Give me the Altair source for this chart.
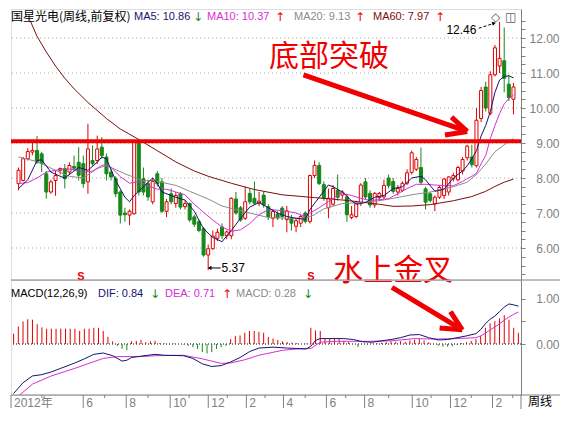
import altair as alt
import pandas as pd

# ---------------- data ----------------
stock_title = "国星光电(周线,前复权)"
ma_labels = ["MA5: 10.86", "MA10: 10.37", "MA20: 9.13", "MA60: 7.97"]
ma_arrows = ["↓", "↑", "↑", "↑"]
macd_title = "MACD(12,26,9)"
macd_labels = ["DIF: 0.84", "DEA: 0.71", "MACD: 0.28"]
macd_arrows = ["↓", "↑", "↓"]

opens = [7.84, 7.93, 8.55, 8.74, 8.79, 8.69, 8.12, 7.6, 7.93, 8.22,
         8.26, 8.17, 8.33, 8.45, 8.41, 7.89, 8.5, 8.5, 8.88, 8.6,
         8.17, 7.98, 7.6, 7.0, 6.94, 6.98, 9.04, 7.98, 7.84, 7.32,
         8.12, 7.89, 7.05, 7.55, 7.27, 7.55, 7.18, 7.27, 6.89, 6.75,
         6.55, 5.8, 5.98, 6.28, 6.6, 6.35, 6.35, 7.4, 7.15, 6.85,
         7.56, 7.42, 7.28, 7.51, 7.18, 6.85, 6.97, 7.14, 6.81, 6.85,
         6.62, 6.71, 7.0, 6.76, 8.07, 8.36, 7.81, 7.15, 7.25, 7.65,
         7.51, 7.46, 6.87, 6.9, 7.28, 7.89, 7.56, 7.23, 7.44, 7.46,
         8.0, 7.9, 7.6, 7.65, 7.85, 8.16, 8.25, 8.3, 7.69, 7.55,
         7.26, 7.45, 7.5, 7.6, 7.98, 7.95, 8.2, 8.58, 8.6, 8.35,
         9.7, 10.6, 9.85, 10.95, 11.2, 11.35, 10.68, 10.25]
highs = [8.3, 8.6, 8.85, 9.04, 9.2, 8.75, 8.2, 7.95, 8.2, 8.3,
         8.4, 8.45, 8.64, 8.88, 8.64, 9.55, 8.93, 9.21, 9.17, 8.7,
         8.25, 8.05, 7.65, 7.15, 7.1, 9.1, 9.1, 8.3, 7.95, 8.0,
         8.2, 8.0, 7.4, 7.7, 7.6, 7.6, 7.35, 7.3, 6.95, 6.8,
         6.6, 6.1, 6.5, 6.55, 6.7, 6.5, 7.45, 7.6, 7.2, 7.75,
         7.7, 7.9, 7.6, 7.6, 7.25, 7.1, 7.05, 7.2, 7.2, 6.95,
         6.85, 6.95, 7.05, 8.1, 8.5, 8.45, 7.9, 7.7, 7.8, 8.1,
         7.65, 7.55, 7.2, 7.35, 7.85, 8.0, 7.65, 7.6, 7.6, 7.95,
         8.1, 8.0, 7.8, 7.9, 8.25, 8.78, 8.6, 8.87, 7.75, 7.6,
         7.5, 7.8, 8.0, 8.05, 8.15, 8.35, 8.6, 8.95, 8.95, 10.0,
         10.6, 10.75, 11.05, 11.8, 12.46, 12.3, 10.95, 10.72]
lows = [7.65, 7.9, 8.5, 8.65, 8.4, 8.17, 7.41, 7.55, 7.49, 8.1,
        7.7, 8.1, 8.2, 7.93, 7.72, 7.55, 8.35, 8.4, 8.55, 7.93,
        7.93, 7.46, 6.7, 6.75, 6.65, 6.95, 7.5, 7.5, 7.35, 7.25,
        7.75, 7.0, 6.88, 7.25, 7.15, 7.1, 7.1, 6.75, 6.6, 6.45,
        5.75, 5.37, 5.95, 6.2, 6.25, 6.25, 6.25, 6.95, 6.75, 6.8,
        7.25, 7.25, 7.2, 7.15, 6.8, 6.6, 6.8, 6.8, 6.45, 6.5,
        6.45, 6.6, 6.7, 6.7, 8.0, 7.8, 7.35, 6.85, 7.2, 7.35,
        7.4, 6.75, 6.82, 6.85, 7.2, 7.4, 7.15, 7.15, 7.35, 7.4,
        7.7, 7.55, 7.5, 7.6, 7.8, 8.1, 8.2, 7.8, 7.1, 7.3,
        7.05, 7.4, 7.4, 7.5, 7.9, 7.9, 8.1, 8.5, 8.3, 8.3,
        9.6, 9.9, 9.8, 10.9, 11.0, 10.45, 10.2, 9.82]
closes = [8.22, 8.55, 8.76, 8.79, 8.45, 8.41, 7.6, 7.89, 8.07, 8.27,
          7.98, 8.36, 8.28, 8.08, 7.84, 8.83, 8.41, 8.83, 8.64, 8.12,
          8.03, 7.55, 6.94, 6.95, 7.05, 9.04, 7.6, 7.6, 7.46, 7.9,
          7.84, 7.05, 7.32, 7.32, 7.5, 7.17, 7.27, 6.8, 6.68, 6.5,
          5.8, 5.98, 6.34, 6.45, 6.35, 6.46, 7.42, 7.0, 6.8, 7.32,
          7.32, 7.28, 7.34, 7.23, 6.9, 7.04, 6.86, 6.9, 7.06, 6.71,
          6.78, 6.9, 6.76, 8.07, 8.36, 7.84, 7.43, 7.42, 7.7, 7.45,
          7.6, 6.95, 6.95, 7.28, 7.8, 7.46, 7.23, 7.56, 7.56, 7.79,
          7.78, 7.62, 7.7, 7.85, 8.15, 8.72, 8.53, 7.88, 7.31, 7.36,
          7.45, 7.73, 7.97, 8.03, 8.07, 8.3, 8.53, 8.91, 8.38, 9.65,
          10.5, 10.0, 10.95, 11.72, 11.42, 10.85, 10.3, 10.6]

ma5_i = [0, 2, 4, 5, 7, 9, 10, 12, 13, 15, 17, 18, 19, 21, 23, 24, 25, 27, 29, 30,
         31, 34, 36, 38, 40, 42, 44, 46, 48, 50, 52, 54, 56, 58, 60, 62, 63, 65, 67, 68,
         70, 72, 73, 75, 77, 79, 81, 83, 85, 87, 88, 90, 92, 94, 96, 97, 98, 99, 100, 101,
         102, 103, 104, 105, 106, 107]
ma5_v = [7.7, 7.95, 8.5, 8.52, 8.17, 8.05, 8.0, 8.2, 8.3, 8.22, 8.45, 8.6, 8.55, 7.93, 7.45, 7.32, 7.5, 7.75, 8.0, 7.85,
         7.6, 7.45, 7.37, 7.05, 6.55, 6.3, 6.18, 6.5, 6.85, 7.17, 7.3, 7.15, 7.0, 6.9, 6.85, 6.82, 7.1, 7.45, 7.8, 7.75,
         7.6, 7.35, 7.25, 7.3, 7.45, 7.5, 7.7, 7.75, 8.0, 8.05, 7.95, 7.62, 7.68, 8.0, 8.2, 8.35, 8.55, 8.78, 9.2, 9.5,
         9.9, 10.45, 10.8, 10.9, 10.92, 10.86]
ma10_i = [0, 2, 4, 6, 8, 10, 12, 14, 16, 18, 19, 20, 22, 24, 26, 28, 30, 32, 34, 36,
          38, 40, 42, 44, 46, 48, 50, 52, 54, 56, 58, 60, 62, 63, 65, 67, 69, 70, 72, 74,
          76, 78, 80, 82, 84, 86, 88, 90, 92, 94, 96, 97, 98, 99, 100, 101, 102, 103, 104, 105,
          106, 107]
ma10_v = [7.84, 7.87, 8.0, 8.17, 8.22, 8.27, 8.24, 8.16, 8.2, 8.36, 8.38, 8.3, 8.04, 7.85, 7.9, 7.78, 7.68, 7.68, 7.6, 7.52,
          7.25, 7.02, 6.8, 6.6, 6.48, 6.52, 6.7, 6.95, 7.1, 7.08, 7.05, 7.0, 6.9, 7.0, 7.15, 7.33, 7.5, 7.56, 7.5, 7.42,
          7.36, 7.38, 7.41, 7.55, 7.7, 7.82, 7.82, 7.8, 7.78, 7.78, 7.9, 7.98, 8.05, 8.13, 8.41, 8.64, 9.13, 9.5, 9.84, 10.12,
          10.27, 10.37]
ma20_i = [0, 4, 8, 11, 14, 17, 19, 20, 23, 27, 29, 34, 37, 41, 44, 47, 50, 54, 58, 62,
          64, 66, 70, 74, 78, 81, 85, 89, 94, 97, 99, 101, 103, 105, 107]
ma20_v = [8.6, 8.47, 8.22, 8.05, 8.0, 8.27, 8.36, 8.3, 8.12, 7.92, 7.93, 7.79, 7.62, 7.4, 7.2, 7.1, 7.0, 6.87, 6.85, 6.85,
          6.95, 7.12, 7.27, 7.3, 7.35, 7.42, 7.52, 7.6, 7.75, 7.88, 8.1, 8.4, 8.75, 8.95, 9.13]
ma60_i = [2.5, 4, 6, 8, 10, 12, 15, 19, 22, 26, 30, 34, 38, 41, 46, 51, 57, 64, 71, 78,
          81, 85, 89, 94, 98, 101, 103, 105, 107]
ma60_v = [12.5, 12.05, 11.6, 11.2, 10.85, 10.55, 10.16, 9.7, 9.4, 9.1, 8.78, 8.46, 8.2, 8.05, 7.85, 7.67, 7.52, 7.44, 7.36, 7.25,
          7.19, 7.2, 7.24, 7.35, 7.47, 7.62, 7.76, 7.88, 7.97]

macd_hist = [0.23, 0.39, 0.5, 0.55, 0.54, 0.44, 0.37, 0.34, 0.34, 0.34,
             0.34, 0.34, 0.34, 0.34, 0.29, 0.34, 0.34, 0.36, 0.36, 0.29,
             0.16, 0.06, -0.04, -0.11, -0.14, 0.06, 0.07, 0.09, 0.04, 0.06,
             0.07, 0.02, 0.01, 0.0, 0.01, 0.0, -0.01, -0.04, -0.07, -0.11,
             -0.18, -0.21, -0.18, -0.11, -0.07, -0.04, 0.11, 0.18, 0.19, 0.25,
             0.29, 0.29, 0.27, 0.25, 0.16, 0.12, 0.09, 0.06, 0.04, 0.03,
             0.02, 0.0, 0.01, 0.36, 0.30, 0.29, 0.11, 0.11, 0.11, 0.11,
             0.07, 0.04, 0.0, -0.07, 0.0, -0.02, 0.01, 0.02, 0.03, 0.04,
             0.06, 0.05, 0.06, 0.05, 0.08, 0.1, 0.12, 0.08, 0.04, 0.0,
             -0.04, -0.06, -0.06, -0.05, -0.02, 0.02, 0.04, 0.07, 0.11, 0.18,
             0.36, 0.46, 0.51, 0.57, 0.64, 0.54, 0.36, 0.25]
dif_i = [0, 2, 4, 6, 8, 10, 13, 15, 17, 19, 21, 23, 24, 25, 27, 30, 32, 36, 38, 40,
         42, 44, 46, 48, 50, 52, 55, 58, 62, 63, 64, 65, 70, 72, 74, 76, 78, 80, 82, 84,
         86, 88, 90, 92, 94, 96, 98, 99, 100, 101, 102, 103, 104, 105, 106, 107]
dif_v = [-1.1, -0.86, -0.71, -0.68, -0.62, -0.54, -0.42, -0.33, -0.23, -0.2, -0.26, -0.38, -0.36, -0.3, -0.27, -0.23, -0.25, -0.26, -0.32, -0.44,
         -0.5, -0.48, -0.4, -0.3, -0.17, -0.09, -0.07, -0.09, -0.11, -0.05, 0.08, 0.12, 0.12, 0.1, 0.05, 0.04, 0.07, 0.1, 0.14, 0.2,
         0.21, 0.14, 0.09, 0.1, 0.14, 0.18, 0.23, 0.32, 0.45, 0.55, 0.62, 0.72, 0.82, 0.89, 0.87, 0.84]
dea_i = [0, 4, 8, 13, 19, 22, 27, 30, 36, 40, 44, 46, 49, 52, 57, 60, 63, 65, 68, 75,
         80, 85, 89, 94, 98, 99, 100, 101, 102, 103, 104, 105, 106, 107]
dea_v = [-1.25, -0.89, -0.71, -0.54, -0.32, -0.28, -0.28, -0.26, -0.25, -0.33, -0.43, -0.42, -0.35, -0.25, -0.14, -0.11, -0.1, 0.04, 0.06, 0.06,
         0.07, 0.12, 0.11, 0.12, 0.14, 0.18, 0.24, 0.31, 0.38, 0.45, 0.53, 0.6, 0.66, 0.71]

breakout_level = [9.05]
grid_levels = [6, 7, 8, 9, 10, 11, 12]
price_ticks = [5.25 + 0.25 * k for k in range(30)]
macd_ticks = [0.0, 0.5, 1.0]
month_i = [-0.55, 14.76, 23.87, 33.19, 41.26, 49.34, 57.2, 66.3, 74.4, 84.5, 92.6, 101.5]
month_lbl = ["2012年", "6", "8", "10", "12", "2", "4", "6", "8", "10", "12", "2"]
minor_i = [6.0, 19.3, 28.5, 37.2, 45.3, 53.3, 61.8, 70.4, 79.5, 88.5, 97.0, 105.8]

# annotations (data coordinates)
arrow1_seg = [0, 0, 1, 1, 2, 2]
arrow1_i = [61.6, 97.0, 93.6, 97.0, 92.2, 97.0]
arrow1_p = [10.95, 9.33, 9.74, 9.33, 9.23, 9.33]
arrow2_seg = [0, 0, 1, 1, 2, 2]
arrow2_i = [80.2, 95.1, 92.6, 95.1, 90.3, 95.1]
arrow2_v = [1.257, 0.315, 0.72, 0.315, 0.358, 0.315]
note1 = {"text": "底部突破", "i": 67.1, "p": 11.46}
note2 = {"text": "水上金叉", "i": 81.0, "p": 5.35}
hi_note = {"text": "12.46", "i": 99.0, "p": 12.23}
hi_arrow_i = [99.5, 102.8]
hi_arrow_p = [12.28, 12.42]
lo_note = {"text": "5.37", "i": 43.9, "p": 5.43}
lo_arrow_i = [41.3, 43.7]
lo_arrow_p = [5.43, 5.43]
s_marks_i = [13.5, 63.2]
s_marks_p = [5.17, 5.17]

# ---------------- styling / layout ----------------
W, H1, H2 = 510, 271, 115
C_UP, C_DN = "#e00000", "#17881a"
C_MA5, C_MA10, C_MA20, C_MA60 = "#14146e", "#d62fd6", "#8c8c8c", "#7d0d0d"
C_ANN, C_AX = "#f00000", "#808080"
F_CJK = "Noto Sans CJK SC"
F_LAT = "Liberation Sans"

XS = alt.Scale(domain=[-0.55, 107.55], nice=False, zero=False)
PS = alt.Scale(domain=[5.086, 12.829], nice=False, zero=False)
MS = alt.Scale(domain=[-1.133, 1.422], nice=False, zero=False)

PAX = alt.Axis(orient="right", values=price_ticks, title=None, grid=False,
               labelExpr="datum.value % 1 === 0 ? format(datum.value, '.2f') : ''",
               tickSize=4, labelPadding=34, labelAlign="right", labelColor=C_AX,
               labelFont=F_LAT, labelFontSize=12, labelOverlap=False, labelFlush=False,
               domainColor=C_AX, tickColor=C_AX)
MAX = alt.Axis(orient="right", values=macd_ticks, title=None, grid=False,
               labelExpr="datum.value === 0.5 ? '' : format(datum.value, '.2f')",
               tickSize=4, labelPadding=34, labelAlign="right", labelColor=C_AX,
               labelFont=F_LAT, labelFontSize=12, labelOverlap=False, labelFlush=False,
               domainColor=C_AX, tickColor=C_AX)


def X(f="i"):
    return alt.X(f"{f}:Q", scale=XS, axis=None)


def PY(f):
    return alt.Y(f"{f}:Q", scale=PS, axis=PAX, title=None)


def MY(f):
    return alt.Y(f"{f}:Q", scale=MS, axis=MAX, title=None)


N = len(closes)
cdf = pd.DataFrame({"i": list(range(N)), "open": opens, "high": highs, "low": lows, "close": closes})
cdf["dir"] = ["up" if c >= o else "down" for o, c in zip(opens, closes)]
dir_color = alt.Color("dir:N", scale=alt.Scale(domain=["up", "down"], range=[C_UP, C_DN]), legend=None)

# ---------------- price panel ----------------
grid = alt.Chart(pd.DataFrame({"lvl": grid_levels})).mark_rule(
    color="#a8a8a8", strokeDash=[1, 3], strokeWidth=1).encode(y=PY("lvl"))
wicks = alt.Chart(cdf).mark_rule(strokeWidth=1).encode(x=X(), y=PY("low"), y2="high", color=dir_color)
up_body = alt.Chart(cdf[cdf["dir"] == "up"]).mark_bar(
    size=3, fill="white", stroke=C_UP, strokeWidth=1).encode(x=X(), y=PY("open"), y2="close")
dn_body = alt.Chart(cdf[cdf["dir"] == "down"]).mark_bar(
    size=3, fill=C_DN, stroke=C_DN, strokeWidth=1).encode(x=X(), y=PY("open"), y2="close")


def ma_line(ii, vv, color):
    return alt.Chart(pd.DataFrame({"i": ii, "v": vv})).mark_line(
        color=color, strokeWidth=1, clip=True).encode(x=X(), y=PY("v"))


ma60 = ma_line(ma60_i, ma60_v, C_MA60)
ma20 = ma_line(ma20_i, ma20_v, C_MA20)
ma10 = ma_line(ma10_i, ma10_v, C_MA10)
ma5 = ma_line(ma5_i, ma5_v, C_MA5)

red_line = alt.Chart(pd.DataFrame({"lvl": breakout_level})).mark_rule(
    color=C_ANN, strokeWidth=4).encode(y=PY("lvl"))

arrow1 = alt.Chart(pd.DataFrame({"seg": arrow1_seg, "i": arrow1_i, "p": arrow1_p})).mark_line(
    color=C_ANN, strokeWidth=5, strokeCap="butt").encode(x=X(), y=PY("p"), detail="seg:N")

txt1 = alt.Chart(pd.DataFrame([note1])).mark_text(
    font=F_CJK, fontSize=30, color=C_ANN, align="center", baseline="middle").encode(
    x=X(), y=PY("p"), text="text:N")
txt2 = alt.Chart(pd.DataFrame([note2])).mark_text(
    font=F_CJK, fontSize=30, color=C_ANN, align="center", baseline="middle").encode(
    x=X(), y=PY("p"), text="text:N")
hi_txt = alt.Chart(pd.DataFrame([hi_note])).mark_text(
    font=F_LAT, fontSize=12, color="black", align="right", baseline="middle").encode(
    x=X(), y=PY("p"), text="text:N")
hi_arr = alt.Chart(pd.DataFrame({"i": hi_arrow_i, "p": hi_arrow_p})).mark_line(
    color="black", strokeWidth=1, strokeDash=[3, 2]).encode(x=X(), y=PY("p"))
hi_head = alt.Chart(pd.DataFrame({"i": hi_arrow_i[-1:], "p": hi_arrow_p[-1:]})).mark_point(
    shape="triangle-right", size=18, filled=True, color="black", angle=345, opacity=1).encode(x=X(), y=PY("p"))
lo_txt = alt.Chart(pd.DataFrame([lo_note])).mark_text(
    font=F_LAT, fontSize=12, color="black", align="left", baseline="middle").encode(
    x=X(), y=PY("p"), text="text:N")
lo_arr = alt.Chart(pd.DataFrame({"i": lo_arrow_i, "p": lo_arrow_p})).mark_line(
    color="black", strokeWidth=1).encode(x=X(), y=PY("p"))
lo_head = alt.Chart(pd.DataFrame({"i": lo_arrow_i[:1], "p": lo_arrow_p[:1]})).mark_point(
    shape="triangle-left", size=18, filled=True, color="black", opacity=1).encode(x=X(), y=PY("p"))
s_marks = alt.Chart(pd.DataFrame({"i": s_marks_i, "p": s_marks_p})).mark_text(
    text="S", font=F_LAT, fontSize=11, fontWeight="bold", color=C_ANN, baseline="middle").encode(
    x=X(), y=PY("p"))

header = []
hdr_y = 8
header.append(alt.Chart().mark_text(text=stock_title, font=F_CJK, fontSize=12, color="black",
                                    align="left", baseline="middle").encode(x=alt.value(0), y=alt.value(hdr_y)))
ma_cols = [C_MA5, C_MA10, C_MA20, C_MA60]
ma_x = [123, 196, 283, 362]
ar_x = [182, 264, 344, 424]
for lbl, arw, col, xt, xa in zip(ma_labels, ma_arrows, ma_cols, ma_x, ar_x):
    header.append(alt.Chart().mark_text(text=lbl, font=F_LAT, fontSize=11, color=col, align="left",
                                        baseline="middle").encode(x=alt.value(xt), y=alt.value(hdr_y)))
    header.append(alt.Chart().mark_text(text=arw, font="DejaVu Sans", fontSize=12,
                                        color=(C_DN if arw == "↓" else C_ANN), align="left",
                                        baseline="middle").encode(x=alt.value(xa), y=alt.value(hdr_y)))
header.append(alt.Chart().mark_text(text="◇", font="DejaVu Sans", fontSize=12, color="#606060",
                                    align="left", baseline="middle").encode(x=alt.value(480), y=alt.value(hdr_y)))
header.append(alt.Chart().mark_text(text="◫", font="DejaVu Sans", fontSize=12, color="#606060",
                                    align="left", baseline="middle").encode(x=alt.value(494), y=alt.value(hdr_y)))

price = alt.layer(grid, wicks, up_body, dn_body, ma60, ma20, ma10, ma5, red_line, arrow1,
                  txt1, txt2, hi_txt, hi_arr, hi_head, lo_txt, lo_arr, lo_head, s_marks,
                  *header).properties(width=W, height=H1)

# ---------------- MACD panel ----------------
hdf = pd.DataFrame({"i": list(range(N)), "h": macd_hist, "z": [0.0] * N})
hdf["dir"] = ["up" if v >= 0 else "down" for v in macd_hist]
zero = alt.Chart(pd.DataFrame({"z": [0.0]})).mark_rule(
    color="black", strokeDash=[1, 2], strokeWidth=1).encode(y=MY("z"))
bars = alt.Chart(hdf).mark_rule(strokeWidth=1).encode(
    x=X(), y=MY("z"), y2="h",
    color=alt.Color("dir:N", scale=alt.Scale(domain=["up", "down"], range=["#c00000", "#1a7a1a"]), legend=None))
dea = alt.Chart(pd.DataFrame({"i": dea_i, "v": dea_v})).mark_line(
    color=C_MA10, strokeWidth=1, clip=True).encode(x=X(), y=MY("v"))
dif = alt.Chart(pd.DataFrame({"i": dif_i, "v": dif_v})).mark_line(
    color=C_MA5, strokeWidth=1, clip=True).encode(x=X(), y=MY("v"))
arrow2 = alt.Chart(pd.DataFrame({"seg": arrow2_seg, "i": arrow2_i, "v": arrow2_v})).mark_line(
    color=C_ANN, strokeWidth=5, strokeCap="butt").encode(x=X(), y=MY("v"), detail="seg:N")

mh = []
mh_y = 14
mh.append(alt.Chart().mark_text(text=macd_title, font=F_LAT, fontSize=11, color="black", align="left",
                                baseline="middle").encode(x=alt.value(0), y=alt.value(mh_y)))
m_cols = [C_MA5, C_MA10, C_MA20]
m_x = [87, 154, 225]
m_ax = [139, 211, 292]
for lbl, arw, col, xt, xa in zip(macd_labels, macd_arrows, m_cols, m_x, m_ax):
    mh.append(alt.Chart().mark_text(text=lbl, font=F_LAT, fontSize=11, color=col, align="left",
                                    baseline="middle").encode(x=alt.value(xt), y=alt.value(mh_y)))
    mh.append(alt.Chart().mark_text(text=arw, font="DejaVu Sans", fontSize=12,
                                    color=(C_DN if arw == "↓" else C_ANN), align="left",
                                    baseline="middle").encode(x=alt.value(xa), y=alt.value(mh_y)))

frame_top = alt.Chart().mark_rule(color=C_AX, strokeWidth=1).encode(
    x=alt.value(0), x2=alt.value(W + 39), y=alt.value(0))
frame_bot = alt.Chart().mark_rule(color=C_AX, strokeWidth=1).encode(
    x=alt.value(0), x2=alt.value(W + 39), y=alt.value(H2))
frame_v = alt.Chart().mark_rule(color=C_AX, strokeWidth=1).encode(
    x=alt.value(W), y=alt.value(H2), y2=alt.value(H2 + 14))
mdf = pd.DataFrame({"i": month_i, "lbl": month_lbl})
major = alt.Chart(mdf).mark_rule(color=C_AX, strokeWidth=1).encode(
    x=X(), y=alt.value(H2), y2=alt.value(H2 + 13))
minor = alt.Chart(pd.DataFrame({"i": minor_i})).mark_rule(color=C_AX, strokeWidth=1).encode(
    x=X(), y=alt.value(H2), y2=alt.value(H2 + 3))
mlabels = alt.Chart(mdf).mark_text(font=F_LAT + ", " + F_CJK, fontSize=12, color=C_AX, align="left",
                                   baseline="middle", dx=3).encode(
    x=X(), y=alt.value(H2 + 8), text="lbl:N")
zhouxian = alt.Chart().mark_text(text="周线", font=F_CJK, fontSize=12, color="black", align="center",
                                 baseline="middle").encode(x=alt.value(W + 19), y=alt.value(H2 + 7))

macd = alt.layer(zero, bars, dea, dif, arrow2, *mh, frame_top, frame_bot, frame_v, major, minor,
                 mlabels, zhouxian).properties(width=W, height=H2)

chart = alt.vconcat(price, macd, spacing=0, bounds="flush").resolve_scale(
    y="independent").properties(padding=0).configure_view(strokeWidth=0).configure(background="white")

chart.save("out.html", embed_options={"renderer": "svg", "actions": False})
